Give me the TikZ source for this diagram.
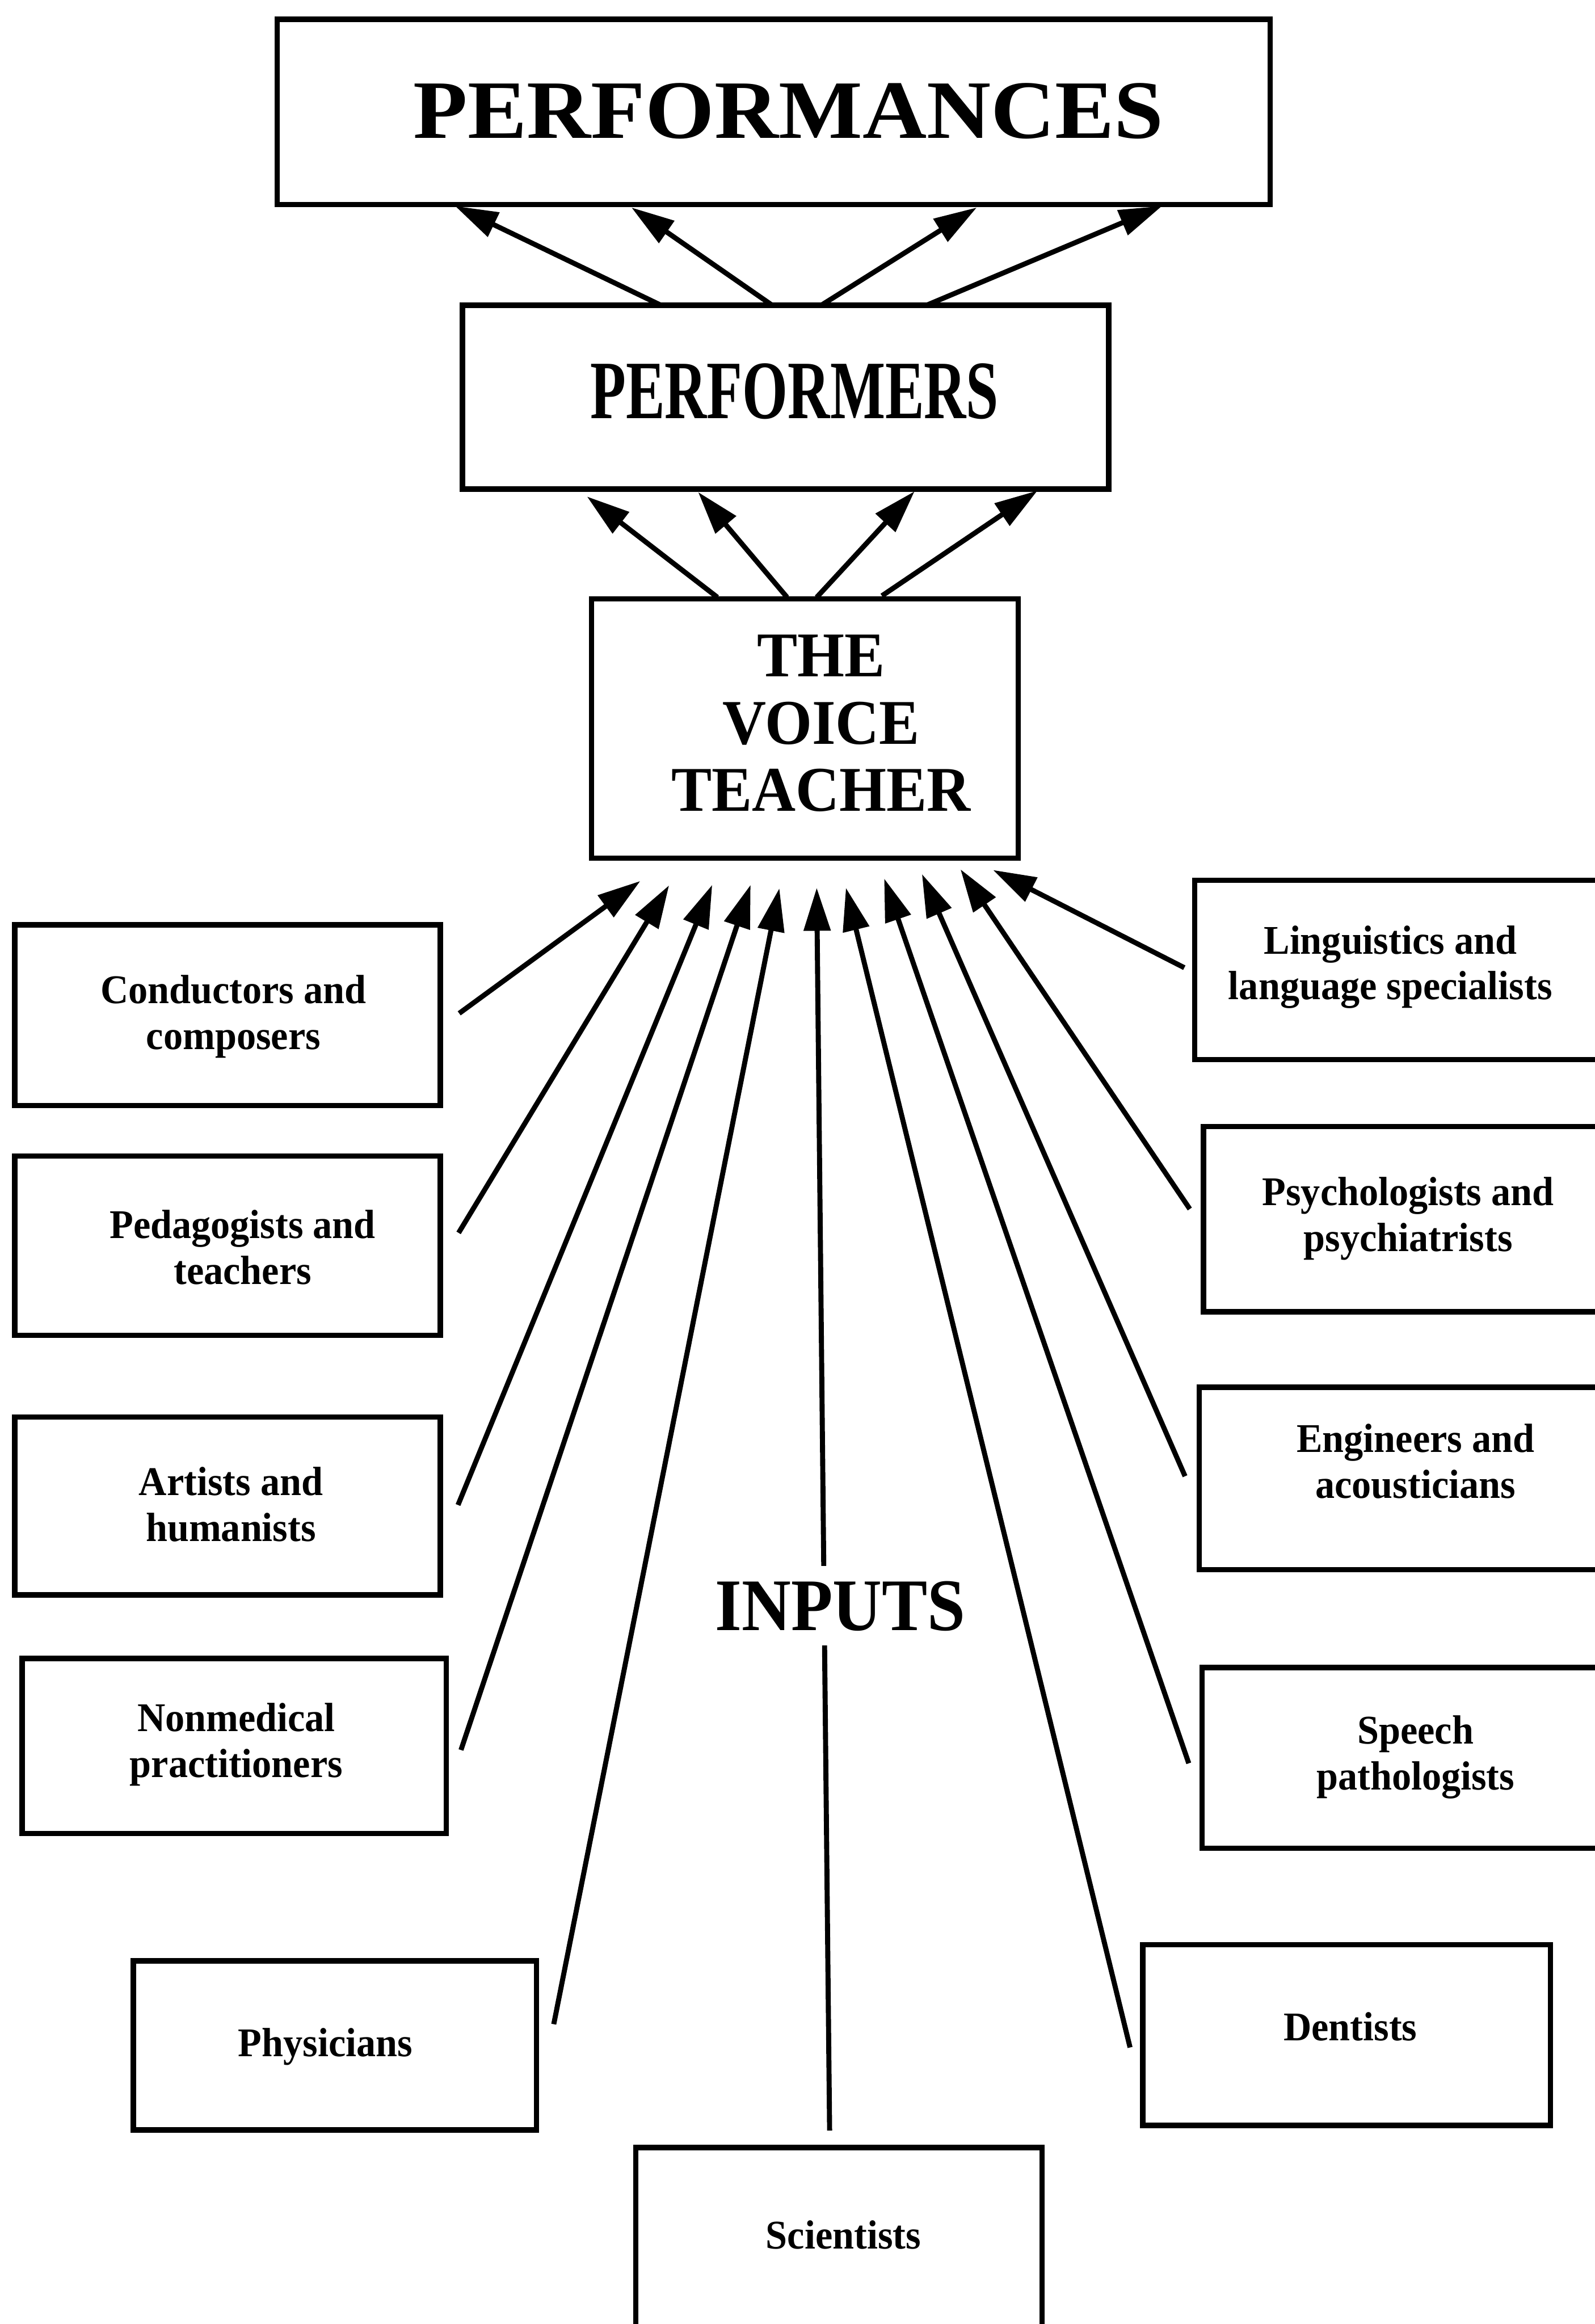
\documentclass[tikz,border=0pt]{standalone}
\usepackage{fontspec}
\setmainfont{Liberation Serif}
\newfontfamily\fwide[FakeStretch=1.07]{Liberation Serif}
\newfontfamily\fcond[FakeStretch=0.703]{Liberation Serif}
\newfontfamily\fvt[FakeStretch=0.95]{Liberation Serif}
\newfontfamily\finp[FakeStretch=0.92]{Liberation Serif}
\newfontfamily\fsm[FakeStretch=0.95]{Liberation Serif}
\usetikzlibrary{arrows.meta,calc}
\begin{document}
\begin{tikzpicture}[x=0.5pt,y=-0.5pt,
  box/.style={draw=black, line width=1.8pt, inner sep=0pt, outer sep=0pt},
  lbl/.style={inner sep=0pt, align=center, font=\fsm\bfseries\fontsize{13.75}{15.5}\selectfont},
  arr/.style={line width=1.7pt, -{Triangle[length=14.5pt,width=8.8pt]}},
  ]
\useasboundingbox (0,0) rectangle (1076,1568);
\fill[white] (0,0) rectangle (1076,1568);
\clip (0,0) rectangle (1076,1568);

% main boxes
\node[box, minimum width=335pt, minimum height=62.5pt] (perf) at (522,75.5) {};
\node[inner sep=0pt, font=\fwide\bfseries\fontsize{28}{30}\selectfont] (tperf) at (532,75) {PERFORMANCES};

\node[box, minimum width=218pt, minimum height=62pt] (pfr) at (530,268) {};
\node[inner sep=0pt, font=\fcond\bfseries\fontsize{28}{30}\selectfont] (tpfr) at (536,264) {PERFORMERS};

\node[box, minimum width=144pt, minimum height=87.5pt] (vt) at (543,491.5) {};
\node[inner sep=0pt, align=center, font=\fvt\bfseries\fontsize{21.5}{22.75}\selectfont] (tvt) at (554,488) {THE\\VOICE\\TEACHER};

% left input boxes
\node[box, minimum width=143.5pt, minimum height=61pt] (cond) at (153.5,685) {};
\node[lbl] (tcond) at (157.5,686) {Conductors and\\composers};

\node[box, minimum width=143.5pt, minimum height=60.5pt] (peda) at (153.5,840.5) {};
\node[lbl] (tpeda) at (163.7,841.5) {Pedagogists and\\teachers};

\node[box, minimum width=143.5pt, minimum height=60pt] (art) at (153.5,1016) {};
\node[lbl] (tart) at (155.8,1015) {Artists and\\humanists};

\node[box, minimum width=143pt, minimum height=59pt] (nonm) at (158,1178) {};
\node[lbl] (tnonm) at (159.4,1177) {Nonmedical\\practitioners};

\node[box, minimum width=136pt, minimum height=57pt] (phys) at (226,1380) {};
\node[lbl] (tphys) at (219.5,1381) {Physicians};

% right input boxes
\node[box, minimum width=144.5pt, minimum height=60.5pt] (ling) at (950.5,654.5) {};
\node[lbl] (tling) at (938,652.5) {Linguistics and\\language specialists};

\node[box, minimum width=141.5pt, minimum height=62.5pt] (psy) at (953.5,822.5) {};
\node[lbl] (tpsy) at (950,822.3) {Psychologists and\\psychiatrists};

\node[box, minimum width=143pt, minimum height=61.5pt] (eng) at (952,997.5) {};
\node[lbl] (teng) at (955,986) {Engineers and\\acousticians};

\node[box, minimum width=142pt, minimum height=61pt] (spch) at (953,1186) {};
\node[lbl] (tspch) at (955,1185.5) {Speech\\pathologists};

\node[box, minimum width=137.5pt, minimum height=61pt] (dent) at (908.5,1373) {};
\node[lbl] (tdent) at (911,1367.5) {Dentists};

% bottom box
\node[box, minimum width=137pt, minimum height=68pt] (sci) at (566,1517) {};
\node[lbl] (tsci) at (569,1508) {Scientists};

% performers -> performances
\draw[arr] ($(pfr.north west)+(134,0)$) -- ($(perf.south west)+(120,1)$);
\draw[arr] ($(pfr.north west)+(209,0)$) -- ($(perf.south west)+(239,2)$);
\draw[arr] ($(pfr.north west)+(242,0)$) -- ($(perf.south west)+(472,2)$);
\draw[arr] ($(pfr.north west)+(313,0)$) -- ($(perf.south west)+(597,1)$);

% voice teacher -> performers
\draw[arr] ($(vt.north west)+(85,-1)$) -- ($(pfr.south west)+(84,5)$);
\draw[arr] ($(vt.north west)+(132,-1)$) -- ($(pfr.south west)+(159,2)$);
\draw[arr] ($(vt.north west)+(152,-1)$) -- ($(pfr.south west)+(305,1.5)$);
\draw[arr] ($(vt.north west)+(196,-2)$) -- ($(pfr.south west)+(388,1)$);

% inputs -> voice teacher
\draw[arr] ($(cond.east)+(12.8,-1.3)$) -- ($(vt.south west)+(33,15.4)$);
\draw[arr] ($(peda.east)+(12.4,-8.7)$) -- ($(vt.south west)+(52.4,18.3)$);
\draw[arr] ($(art.east)+(12,-0.6)$) -- ($(vt.south west)+(81.5,18)$);
\draw[arr] ($(nonm.east)+(10,2.7)$) -- ($(vt.south west)+(107.4,18)$);
\draw[arr] ($(phys.east)+(11.6,-14.3)$) -- ($(vt.south west)+(126.8,20.3)$);
\draw[arr] ($(sci.north)+(-6.3,-11.5)$) -- ($(vt.south west)+(152,20)$);
\draw[arr] ($(dent.west)+(-8.6,8.4)$) -- ($(vt.south west)+(171.7,20)$);
\draw[arr] ($(spch.west)+(-9,3.7)$) -- ($(vt.south west)+(197.5,13.7)$);
\draw[arr] ($(eng.west)+(-9.5,-1.5)$) -- ($(vt.south west)+(223,10.7)$);
\draw[arr] ($(psy.west)+(-9.3,-6.8)$) -- ($(vt.south west)+(249,7.5)$);
\draw[arr] ($(ling.west)+(-7,-1.6)$) -- ($(vt.south west)+(271,8)$);

% INPUTS label over the central line
\node[fill=white, inner xsep=3pt, inner ysep=5pt, font=\finp\bfseries\fontsize{25}{27}\selectfont] (inp) at (567,1083.5) {INPUTS};
\end{tikzpicture}
\end{document}
